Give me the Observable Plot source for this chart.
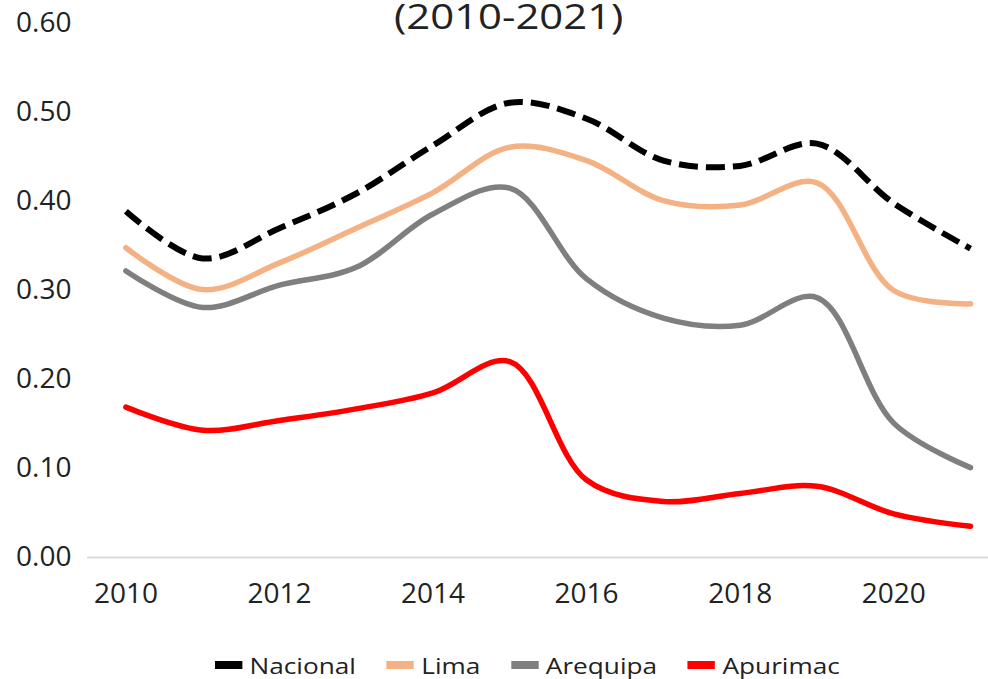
<!DOCTYPE html>
<html>
<head>
<meta charset="utf-8">
<script src="https://cdn.jsdelivr.net/npm/d3@7"></script>
<script src="https://cdn.jsdelivr.net/npm/@observablehq/plot@0.6"></script>
<style>
  html, body { margin: 0; padding: 0; background: #fff; overflow: hidden; }
  #wrap { position: relative; width: 988px; height: 679px; font-family: "Open Sans", sans-serif; color: #222; }
  #title { position: absolute; top: -1px; left: 394px; font-size: 34px; line-height: 34px; white-space: nowrap; color: #222; transform: scaleX(1.23); transform-origin: 0 0; }
  #chart { position: absolute; top: 0; left: 0; }
  #legend { position: absolute; top: 640px; left: 215px; height: 49px; display: flex; align-items: center; font-size: 22px; white-space: nowrap; color: #222; transform: scaleX(1.19); transform-origin: 0 50%; }
  .item { display: flex; align-items: center; margin-right: 26px; }
  .sw { width: 23px; height: 8px; margin-right: 6px; }
</style>
</head>
<body>
<div id="wrap">
  <div id="chart"></div>
  <div id="title">(2010-2021)</div>
  <div id="legend"></div>
</div>
<script>
const years    = [2010, 2011, 2012, 2013, 2014, 2015, 2016, 2017, 2018, 2019, 2020, 2021];
const nacional = [0.389, 0.336, 0.370, 0.409, 0.463, 0.511, 0.493, 0.446, 0.440, 0.465, 0.398, 0.347];
const lima     = [0.348, 0.301, 0.331, 0.370, 0.410, 0.461, 0.446, 0.401, 0.396, 0.421, 0.300, 0.285];
const arequipa = [0.322, 0.281, 0.306, 0.326, 0.386, 0.415, 0.313, 0.269, 0.261, 0.292, 0.151, 0.101];
const apurimac = [0.169, 0.143, 0.154, 0.167, 0.185, 0.220, 0.087, 0.063, 0.072, 0.080, 0.049, 0.035];

const seriesNames  = ["Nacional", "Lima", "Arequipa", "Apurimac"];
const seriesColors = ["#000000", "#F4B183", "#7F7F7F", "#FF0000"];
const xTicks = [2010, 2012, 2014, 2016, 2018, 2020];
const yTicks = [0, 0.1, 0.2, 0.3, 0.4, 0.5, 0.6];

const seriesValues = [nacional, lima, arequipa, apurimac];
const rows = [];
seriesNames.forEach((s, i) => years.forEach((yr, j) => rows.push({series: s, year: yr, value: seriesValues[i][j]})));
const of = s => rows.filter(r => r.series === s);

const chart = Plot.plot({
  width: 988,
  height: 630,
  marginTop: 23,
  marginBottom: 73,
  marginLeft: 87,
  marginRight: 0,
  style: {fontFamily: "'Open Sans', sans-serif", fontSize: "28px", color: "#222", background: "transparent", overflow: "visible"},
  x: {domain: [2009.5, 2021.5], range: [87, 1008.4]},
  y: {domain: [0, 0.6]},
  marks: [
    Plot.ruleY([0], {stroke: "#d9d9d9", strokeWidth: 2}),
    Plot.axisY(yTicks, {tickSize: 0, tickPadding: 16, tickFormat: d => d.toFixed(2), fill: "#222", label: null}),
    Plot.axisX(xTicks, {tickSize: 0, tickPadding: 26, tickFormat: d => String(d), fill: "#222", label: null}),
    Plot.line(of("Apurimac"), {x: "year", y: "value", stroke: seriesColors[3], strokeWidth: 5.5, curve: "catmull-rom"}),
    Plot.line(of("Arequipa"), {x: "year", y: "value", stroke: seriesColors[2], strokeWidth: 5.5, curve: "catmull-rom"}),
    Plot.line(of("Lima"), {x: "year", y: "value", stroke: seriesColors[1], strokeWidth: 5.5, curve: "catmull-rom"}),
    Plot.line(of("Nacional"), {x: "year", y: "value", stroke: seriesColors[0], strokeWidth: 6, strokeDasharray: "19,8", strokeLinecap: "butt", curve: "catmull-rom"})
  ]
});
document.getElementById("chart").appendChild(chart);

const legend = document.getElementById("legend");
seriesNames.forEach((s, i) => {
  const item = document.createElement("div");
  item.className = "item";
  const sw = document.createElement("span");
  sw.className = "sw";
  sw.style.background = seriesColors[i];
  const label = document.createElement("span");
  label.textContent = s;
  item.appendChild(sw);
  item.appendChild(label);
  legend.appendChild(item);
});
</script>
</body>
</html>
